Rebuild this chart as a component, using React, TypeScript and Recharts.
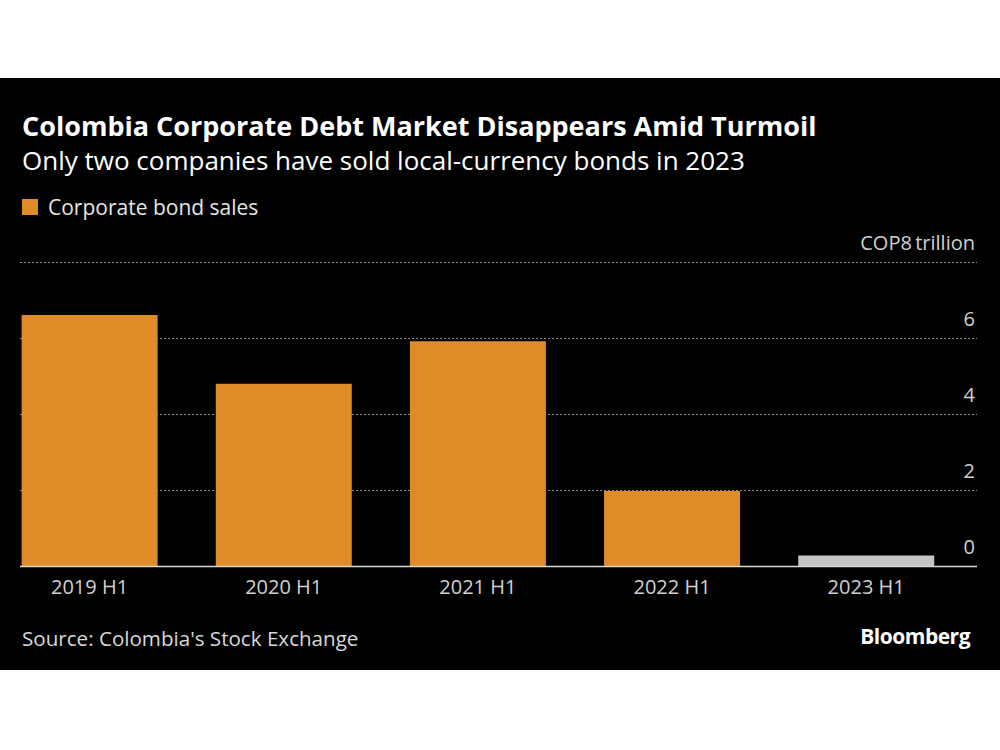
import { BarChart, Bar, XAxis, YAxis, CartesianGrid, Cell } from "recharts";

const periods = ["2019 H1", "2020 H1", "2021 H1", "2022 H1", "2023 H1"];
const bondSales = [6.62, 4.81, 5.93, 1.99, 0.29];
const yTicks = [0, 2, 4, 6, 8];

const data = periods.map((period, i) => ({ period, sales: bondSales[i] }));

const sans = '"Open Sans", "Noto Sans", sans-serif';

const XTick = ({ x, y, payload }: any) => (
  <text x={x} y={y} dy={27} textAnchor="middle" fill="#d0d0d0" fontSize={20} fontFamily={sans}>
    {payload.value}
  </text>
);

const YTick = ({ x, y, payload }: any) => (
  <text x={x - 2} y={y} dy={-13} textAnchor="end" fill="#d0d0d0" fontSize={20} fontFamily={sans}>
    {payload.value === 8 ? "COP8\u2009trillion" : payload.value}
  </text>
);

export default function App() {
  return (
    <div style={{ position: "relative", width: 1000, height: 750, background: "#fff" }}>
      <style>{"body{margin:0}"}</style>
      <div style={{ position: "absolute", left: 0, top: 78, width: 1000, height: 592, background: "#000" }} />

      <div style={{ position: "absolute", left: 22, top: 108, color: "#fff", fontFamily: sans, fontWeight: 700, fontSize: 27, whiteSpace: "nowrap", lineHeight: "36px" }}>
        Colombia Corporate Debt Market Disappears Amid Turmoil
      </div>
      <div style={{ position: "absolute", left: 22, top: 142, color: "#fff", fontFamily: sans, fontSize: 26, whiteSpace: "nowrap", lineHeight: "36px" }}>
        Only two companies have sold local-currency bonds in 2023
      </div>
      <div style={{ position: "absolute", left: 22, top: 192, display: "flex", alignItems: "center", color: "#e6e6e6", fontFamily: sans, fontSize: 21, whiteSpace: "nowrap", lineHeight: "30px" }}>
        <span style={{ display: "inline-block", width: 16, height: 16, background: "#de8b28", marginRight: 10 }} />
        Corporate bond sales
      </div>

      <div style={{ position: "absolute", left: 0, top: 220 }}>
        <BarChart
          width={1000}
          height={400}
          data={data}
          margin={{ top: 42.5, right: 22, bottom: 13.5, left: 20 }}
          barCategoryGap="15%"
        >
          <CartesianGrid vertical={false} stroke="#8a8a8a" strokeDasharray="2 2" />
          <XAxis
            dataKey="period"
            height={40}
            padding={{ left: -27.5, right: 13.75 }}
            tickLine={false}
            tickSize={0}
            tickMargin={0}
            axisLine={{ stroke: "#d8d8d8", strokeWidth: 1.5 }}
            tick={<XTick />}
            interval={0}
          />
          <YAxis
            orientation="right"
            width={1}
            domain={[0, 8]}
            ticks={yTicks}
            interval={0}
            axisLine={false}
            tickLine={false}
            tickSize={0}
            tickMargin={0}
            tick={<YTick />}
          />
          <Bar dataKey="sales" isAnimationActive={false}>
            {data.map((d, i) => (
              <Cell key={d.period} fill={i === data.length - 1 ? "#c4c4c4" : "#de8b28"} />
            ))}
          </Bar>
        </BarChart>
      </div>

      <div style={{ position: "absolute", left: 22, top: 623, color: "#d8d8d8", fontFamily: sans, fontSize: 20.6, whiteSpace: "nowrap", lineHeight: "30px" }}>
        Source: Colombia's Stock Exchange
      </div>
      <div style={{ position: "absolute", right: 30, top: 621, color: "#fff", fontFamily: sans, fontWeight: 700, fontSize: 21, whiteSpace: "nowrap", lineHeight: "30px", letterSpacing: -0.5 }}>
        Bloomberg
      </div>
    </div>
  );
}
